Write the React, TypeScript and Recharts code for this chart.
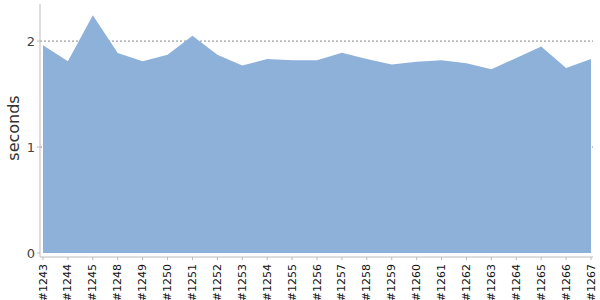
import React from 'react';
import { AreaChart, Area, XAxis, YAxis, CartesianGrid } from 'recharts';

const builds = ['#1243','#1244','#1245','#1248','#1249','#1250','#1251','#1252','#1253','#1254','#1255','#1256','#1257','#1258','#1259','#1260','#1261','#1262','#1263','#1264','#1265','#1266','#1267'];
const seconds = [1.96,1.81,2.245,1.887,1.81,1.87,2.05,1.87,1.77,1.83,1.82,1.82,1.89,1.83,1.78,1.805,1.82,1.79,1.735,1.84,1.95,1.745,1.83];
const yTicks = [0, 1, 2];
const gridValues = [1, 2];

const data = builds.map((b, i) => ({ build: b, seconds: seconds[i] }));

const FONT = 'DejaVu Sans, Verdana, sans-serif';

const XTick = (props: any) => {
  const { x, y, payload } = props;
  return (
    <text x={x} y={y} transform={`rotate(-90 ${x} ${y})`} textAnchor="end" dominantBaseline="central" fontSize={11} fill="#111" fontFamily={FONT} dx={-2}>
      {payload.value}
    </text>
  );
};

export default function App() {
  return (
    <div style={{ position: 'absolute', left: 0, top: 0 }}>
      <AreaChart width={600} height={300} data={data} margin={{ top: 4, right: 7, bottom: 0, left: 0 }}>
        <XAxis
          dataKey="build"
          scale="point"
          padding={{ left: 3, right: 2 }}
          height={43}
          interval={0}
          tick={<XTick />}
          tickSize={3}
          stroke="#bbb"
        />
        <YAxis
          width={40}
          domain={[0, 2.35]}
          ticks={yTicks}
          padding={{ bottom: 4 }}
          tickSize={3}
          stroke="#bbb"
          tick={{ fill: '#444', fontSize: 13, fontFamily: FONT }}
          label={{
            content: () => (
              <text x={13} y={128} transform="rotate(-90 13 128)" textAnchor="middle" dominantBaseline="central" fontSize={16} fill="#333" fontFamily={FONT}>
                seconds
              </text>
            ),
          }}
        />
        <Area dataKey="seconds" type="linear" fill="#8eb1da" fillOpacity={1} stroke="none" isAnimationActive={false} />
        <CartesianGrid vertical={false} horizontalValues={gridValues} stroke="#888" strokeDasharray="2 2" />
      </AreaChart>
    </div>
  );
}
